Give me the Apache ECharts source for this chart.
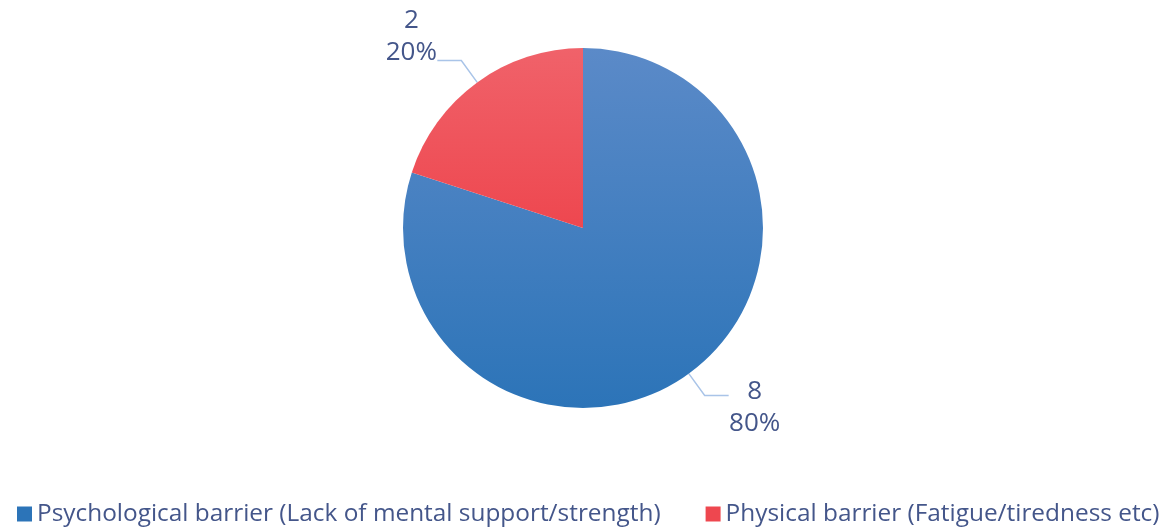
<!DOCTYPE html>
<html>
<head>
<meta charset="utf-8">
<script src="https://cdn.jsdelivr.net/npm/echarts@6/dist/echarts.min.js"></script>
<style>
  html, body { margin: 0; padding: 0; background: #fff; }
  #chart { width: 1174px; height: 532px; }
</style>
</head>
<body>
<div id="chart"></div>
<script>
// Barriers reported, by category
const categories = [
  'Psychological barrier (Lack of mental support/strength)',
  'Physical barrier (Fatigue/tiredness etc)'
];
const counts = [8, 2];
const sliceColors = [
  ['#5b8ac8', '#2c74b8'],
  ['#f0626a', '#ee474f']
];

const textColor = '#44568a';
const fontFamily = '"Open Sans", "Noto Sans", sans-serif';

const chart = echarts.init(document.getElementById('chart'));

const pieData = categories.map((name, i) => ({
  name: name,
  value: counts[i],
  itemStyle: {
    color: new echarts.graphic.LinearGradient(0, 0, 0, 1, [
      { offset: 0, color: sliceColors[i][0] },
      { offset: 1, color: sliceColors[i][1] }
    ])
  },
  label: i === 0
    ? { padding: [24, 0, 0, 0] }
    : { padding: [0, 0, 48, 0] }
}));

chart.setOption({
  animation: false,
  legend: {
    top: 497,
    left: 12,
    icon: 'rect',
    itemWidth: 15,
    itemHeight: 15,
    itemGap: 45,
    textStyle: { color: textColor, fontSize: 24.4, fontFamily: fontFamily },
    data: categories.map((name, i) => ({ name: name, itemStyle: { color: sliceColors[i][1] } }))
  },
  series: [{
    type: 'pie',
    center: [583, 228],
    radius: 180,
    startAngle: 90,
    clockwise: true,
    itemStyle: { borderWidth: 0 },
    label: {
      show: true,
      position: 'outside',
      formatter: '{v|{c}}\n{v|{d}%}',
      distanceToLabelLine: 0,
      rich: {
        v: {
          color: textColor,
          fontSize: 26,
          fontFamily: fontFamily,
          lineHeight: 32,
          width: 52,
          align: 'center'
        }
      }
    },
    labelLine: {
      show: true,
      length: 27,
      length2: 24,
      lineStyle: { color: '#a9c4e8', width: 1.5 }
    },
    data: pieData
  }]
});
</script>
</body>
</html>
